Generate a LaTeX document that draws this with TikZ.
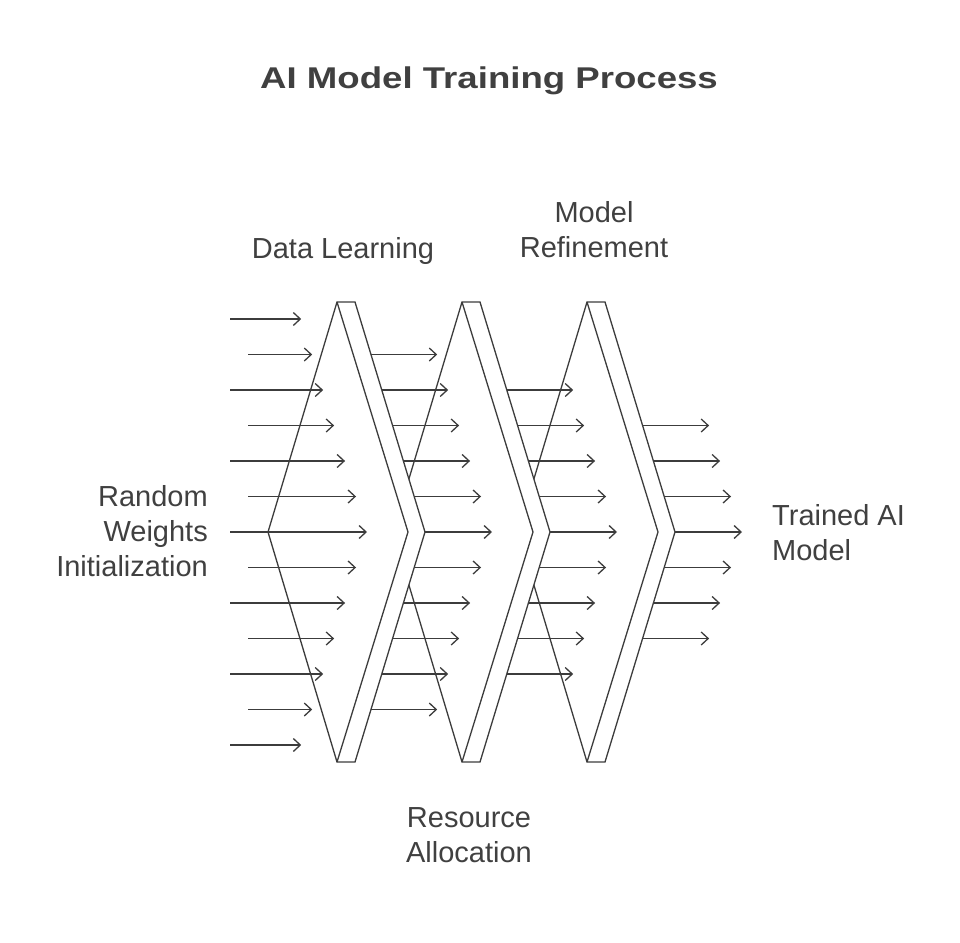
\documentclass[tikz,border=0pt]{standalone}
\usepackage{fontspec}
\setmainfont{Liberation Sans}
\newfontfamily\titlefont[FakeStretch=1.22]{Liberation Sans}
\usetikzlibrary{arrows.meta}
\definecolor{linegray}{HTML}{3C3C3C}
\definecolor{txtgray}{HTML}{404040}

\begin{document}
\begin{tikzpicture}[x=1pt, y=-1pt, >={Straight Barb[length=7pt,width=13pt]},
  lbl/.style = {font=\fontsize{29}{35}\selectfont, text=txtgray, inner sep=0},
  stage/.style = {draw=linegray, fill=white, line width=1.3pt, line join=miter},
  flow/.style = {->, draw=linegray, line width=1.3pt}]
\useasboundingbox (0,0) rectangle (960,942);
\node[font=\titlefont\fontsize{30}{36}\selectfont\bfseries, text=txtgray, inner sep=0, anchor=base] (title) at (489,88) {AI Model Training Process};
% chevron bands, back one first
\foreach \s in {2,1,0} {
  \begin{scope}[xshift=125*\s]
  \draw[stage] (268,532) -- (337,302) -- (355,302) -- (425,532) -- (355,762) -- (337,762) -- cycle;
  \draw[stage, fill=none] (337,302) -- (408,532) -- (337,762);
  \end{scope}
}
% flow arrows
\foreach \s/\n in {0/6,1/5,2/4,3/3} {
  \foreach \k in {-\n,...,\n} {
    \pgfmathsetmacro\yy{532+35.5*\k}
    \pgfmathsetmacro\xe{367+125*\s-10.96*abs(\k)}
    \pgfmathsetmacro\xs{\s==0 ? (mod(abs(\k),2)==1 ? 248 : 230) : (300+125*\s-10.8*abs(\k))}
    \coordinate (in\s\k) at (\xs,\yy);
    \coordinate (out\s\k) at (\xe,\yy);
    \draw[flow] (in\s\k) -- (out\s\k);
  }
}
\node[lbl, align=right, anchor=east] (random) at (208,531.5) {Random\\Weights\\Initialization};
\node[lbl, anchor=base] (data) at (343,258) {Data Learning};
\node[lbl, align=center] (refine) at (594,230) {Model\\Refinement};
\node[lbl, align=center] (resource) at (469,835) {Resource\\Allocation};
\node[lbl, align=left, anchor=west] (trained) at (772,532.5) {Trained AI\\Model};
\end{tikzpicture}
\end{document}
